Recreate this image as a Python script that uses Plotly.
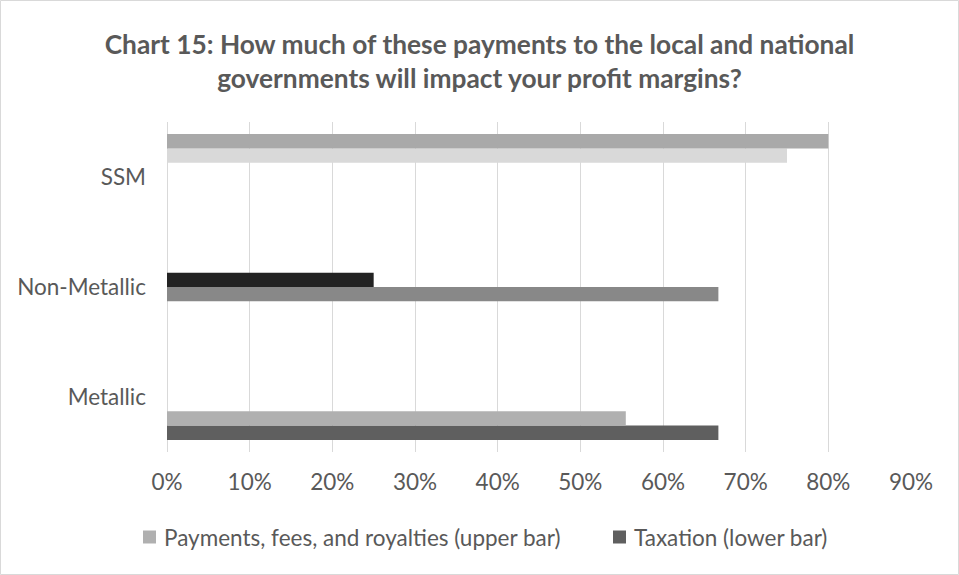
import plotly.graph_objects as go

# ---- data ----
categories = ["Metallic", "Non-Metallic", "SSM"]          # bottom -> top
upper_values = [0.555, 0.25, 0.80]                          # Payments, fees, and royalties
lower_values = [0.667, 0.667, 0.75]                         # Taxation
upper_colors = ["#B0B0B0", "#232323", "#A9A9A9"]
lower_colors = ["#5F5F5F", "#888888", "#D9D9D9"]
series_names = ["Payments, fees, and royalties (upper bar)", "Taxation (lower bar)"]
x_ticks = [0, 0.1, 0.2, 0.3, 0.4, 0.5, 0.6, 0.7, 0.8, 0.9]
title_text = ("Chart 15: How much of these payments to the local and national<br>"
              "governments will impact your profit margins?")

FONT = "Lato"
TXT = "#595959"
W, H = 959, 575
ML, MR, MT, MB = 167, 48, 122, 123
FS = 22.5

fig = go.Figure()
for i, cat in enumerate(categories):
    # lower bar first (grouped h-bars go bottom -> top by trace order)
    fig.add_trace(go.Bar(
        y=[cat], x=[lower_values[i]], orientation="h",
        marker=dict(color=lower_colors[i], line=dict(width=0)),
        name=series_names[1], showlegend=False,
        hovertemplate="%{y}: %{x:.1%}<extra>Taxation</extra>",
    ))
    fig.add_trace(go.Bar(
        y=[cat], x=[upper_values[i]], orientation="h",
        marker=dict(color=upper_colors[i], line=dict(width=0)),
        name=series_names[0], showlegend=False,
        hovertemplate="%{y}: %{x:.1%}<extra>Payments</extra>",
    ))

pw = W - ML - MR
ph = H - MT - MB


def px_x(px):
    return (px - ML) / pw


def px_y(py):
    return (H - MB - py) / ph


# ---- legend drawn as squares + text (Excel style: tight icon/text gap) ----
legend_items = [
    (series_names[0], upper_colors[0], 143, 162),
    (series_names[1], lower_colors[0], 613, 632),
]
LEG_Y = 537
SQ = 13
shapes = [dict(
    type="rect", xref="paper", yref="paper",
    x0=-(ML - 0.5) / pw, x1=1 + (MR - 0.5) / pw,
    y0=-(MB - 0.5) / ph, y1=1 + (MT - 0.5) / ph,
    line=dict(color="#D9D9D9", width=1), fillcolor="rgba(0,0,0,0)", layer="below",
)]
annotations = []
for name, color, sx, tx in legend_items:
    shapes.append(dict(
        type="rect", xref="paper", yref="paper",
        x0=px_x(sx), x1=px_x(sx + SQ),
        y0=px_y(LEG_Y + SQ / 2), y1=px_y(LEG_Y - SQ / 2),
        line=dict(width=0), fillcolor=color,
    ))
    annotations.append(dict(
        text=name, xref="paper", yref="paper", x=px_x(tx), y=px_y(LEG_Y),
        xanchor="left", yanchor="middle", showarrow=False,
        font=dict(size=FS, color=TXT, family=FONT),
    ))

fig.update_layout(
    width=W, height=H,
    margin=dict(l=ML, r=MR, t=MT, b=MB, autoexpand=False),
    paper_bgcolor="white", plot_bgcolor="white",
    barmode="group", bargap=0.22, bargroupgap=0,
    showlegend=False,
    font=dict(family=FONT, color=TXT, size=FS),
    title=dict(
        text=title_text, x=0.5, xanchor="center",
        xref="container", yref="container", y=1 - 54 / H, yanchor="top",
        font=dict(family=FONT, size=26.3, color=TXT, weight="bold"),
    ),
    xaxis=dict(
        range=[0, 0.9], tickvals=x_ticks, tickformat=".0%",
        showgrid=True, gridcolor="#D9D9D9", gridwidth=1,
        zeroline=True, zerolinecolor="#D9D9D9", zerolinewidth=1,
        showline=False, ticks="", ticklabelstandoff=14,
        tickfont=dict(size=FS, color=TXT, family=FONT),
        fixedrange=True, automargin=False,
    ),
    yaxis=dict(
        categoryorder="array", categoryarray=categories,
        showgrid=False, zeroline=False, showline=False, ticks="",
        ticklabelstandoff=20,
        tickfont=dict(size=FS, color=TXT, family=FONT),
        fixedrange=True, automargin=False,
    ),
    shapes=shapes,
    annotations=annotations,
)

fig.write_html("out.html")
